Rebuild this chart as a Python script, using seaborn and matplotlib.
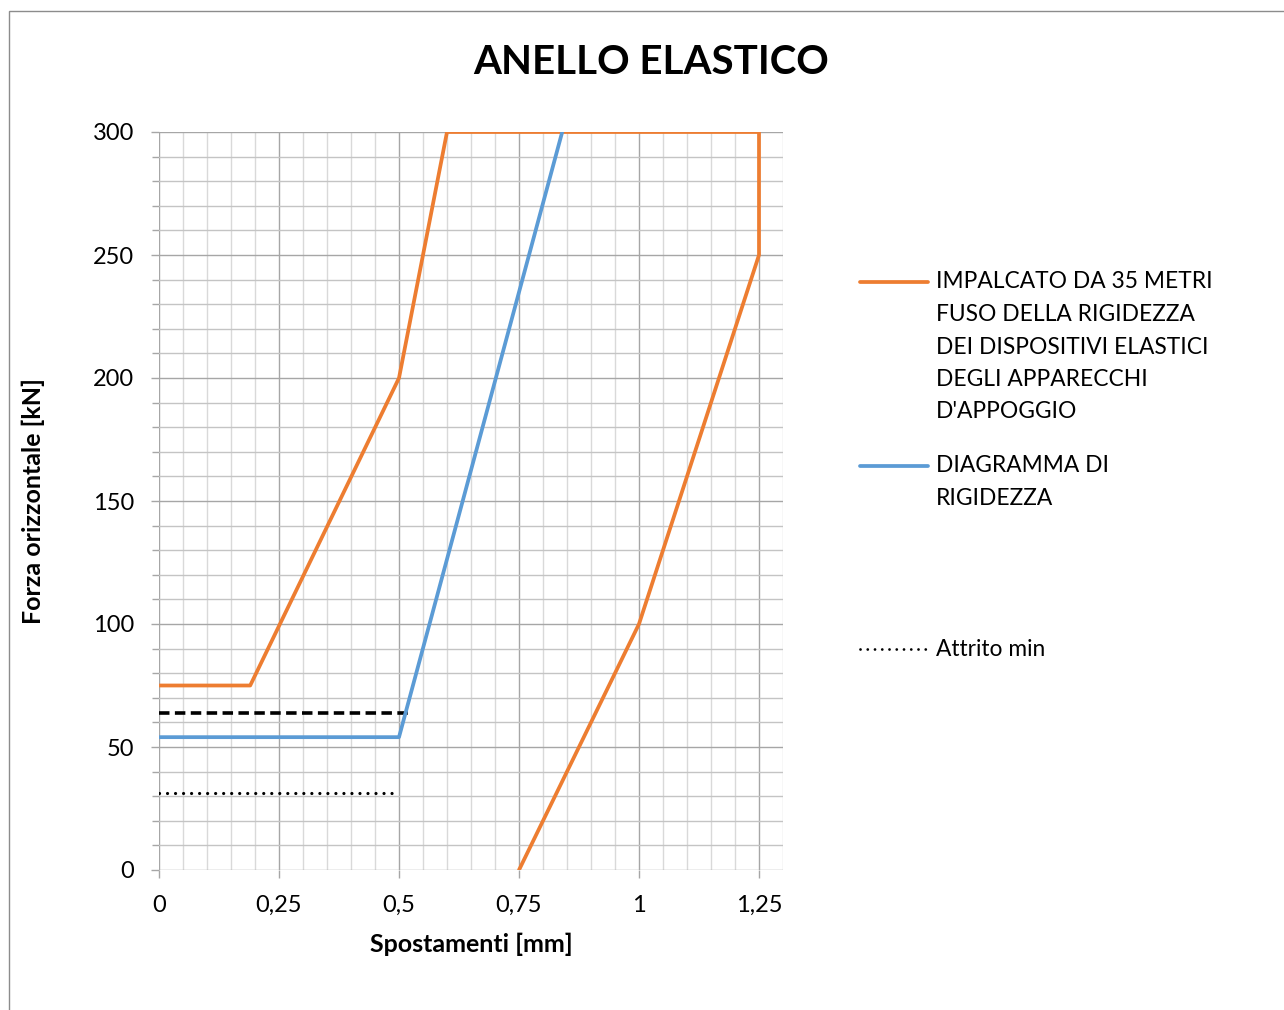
import matplotlib
matplotlib.use("Agg")
import matplotlib.pyplot as plt
from matplotlib.lines import Line2D
from matplotlib.patches import Rectangle
from matplotlib.ticker import MultipleLocator, FixedLocator, FuncFormatter
import seaborn as sns
import pandas as pd

# Fuso della rigidezza (impalcato 35 m): closed outline of the stiffness band
fuso_x = [0.0, 0.19, 0.5, 0.6, 1.25, 1.25, 1.0, 0.75]
fuso_y = [75, 75, 200, 300, 300, 250, 100, 0]

# Diagramma di rigidezza dell'anello elastico
rig_x = [0.0, 0.5, 0.84]
rig_y = [54, 54, 300]

# Attrito max (tratteggiato) e attrito min (punteggiato)
attr_max_x = [0.0, 0.52]
attr_max_y = [64, 64]
attr_min_x = [0.0, 0.49]
attr_min_y = [31.5, 31.5]

x_ticks = [0, 0.25, 0.5, 0.75, 1.0, 1.25]
y_ticks = [0, 50, 100, 150, 200, 250, 300]

title = "ANELLO ELASTICO"
x_label = "Spostamenti [mm]"
y_label = "Forza orizzontale [kN]"
legend_fuso = ["IMPALCATO DA 35 METRI", "FUSO DELLA RIGIDEZZA",
               "DEI DISPOSITIVI ELASTICI", "DEGLI APPARECCHI", "D'APPOGGIO"]
legend_rig = ["DIAGRAMMA DI", "RIGIDEZZA"]
legend_min = ["Attrito min"]

ORANGE = "#ED7D31"
BLUE = "#5B9BD5"

sns.set_theme(style="white")
plt.rcParams["font.family"] = ["Lato", "DejaVu Sans"]
plt.rcParams["text.color"] = "black"
plt.rcParams["axes.labelcolor"] = "black"
plt.rcParams["xtick.labelcolor"] = "black"
plt.rcParams["ytick.labelcolor"] = "black"

W, H = 1284, 1010
fig = plt.figure(figsize=(W / 100, H / 100), dpi=100)
ax = fig.add_axes([159 / W, 1 - 870 / H, (783 - 159) / W, (870 - 132) / H])

df_fuso = pd.DataFrame({"x": fuso_x, "y": fuso_y})
df_rig = pd.DataFrame({"x": rig_x, "y": rig_y})
df_max = pd.DataFrame({"x": attr_max_x, "y": attr_max_y})
df_min = pd.DataFrame({"x": attr_min_x, "y": attr_min_y})

LW = 2.7
sns.lineplot(data=df_fuso, x="x", y="y", sort=False, estimator=None, ax=ax,
             color=ORANGE, lw=LW, zorder=5)
sns.lineplot(data=df_rig, x="x", y="y", sort=False, estimator=None, ax=ax,
             color=BLUE, lw=LW, zorder=5)
sns.lineplot(data=df_max, x="x", y="y", sort=False, estimator=None, ax=ax,
             color="black", lw=2.6, zorder=4)
ax.lines[-1].set_dashes([2.9, 1.5])
ax.lines[-1].set_dash_capstyle("butt")
sns.lineplot(data=df_min, x="x", y="y", sort=False, estimator=None, ax=ax,
             color="black", lw=2.3, zorder=4)
ax.lines[-1].set_dashes([0.01, 2.5])
ax.lines[-1].set_dash_capstyle("round")

ax.set_xlim(0, 1.30)
ax.set_ylim(0, 300)

# grid: major and minor lines
ax.xaxis.set_major_locator(FixedLocator(x_ticks))
ax.yaxis.set_major_locator(FixedLocator(y_ticks))
ax.xaxis.set_minor_locator(MultipleLocator(0.05))
ax.yaxis.set_minor_locator(MultipleLocator(10))
ax.grid(False)
for xv in [i * 0.05 for i in range(27)]:
    major = abs(round(xv / 0.25) * 0.25 - xv) < 1e-9
    ax.axvline(xv, color="#a6a6a6" if major else "#d9d9d9", lw=1.0, zorder=1)
for yv in range(0, 301, 10):
    major = yv % 50 == 0
    ax.axhline(yv, color="#a6a6a6" if major else "#c4c4c4", lw=1.0, zorder=1)

for s in ax.spines.values():
    s.set_visible(False)

fmt = FuncFormatter(lambda v, p: f"{v:g}".replace(".", ","))
ax.xaxis.set_major_formatter(fmt)
ax.tick_params(axis="x", which="major", direction="out", length=6, width=1,
               color="#a6a6a6", labelsize=17, pad=12, bottom=True)
ax.tick_params(axis="x", which="minor", length=0)
ax.tick_params(axis="y", which="major", direction="out", length=6, width=1,
               color="#a6a6a6", labelsize=17, pad=12, left=True)
ax.tick_params(axis="y", which="minor", direction="out", length=5, width=1,
               color="#a6a6a6", left=True)

ax.set_xlabel(x_label, fontsize=18, fontweight="bold", labelpad=12)
ax.set_ylabel(y_label, fontsize=18, fontweight="bold", labelpad=34)

fig.text(651 / W, 1 - 62 / H, title, ha="center", va="center",
         fontsize=29, fontweight="bold")

# legend drawn as handle + text lines
def legend_entry(y_px, lines, **line_kw):
    fig.add_artist(Line2D([860 / W, 928 / W], [1 - y_px / H] * 2, **line_kw))
    for i, t in enumerate(lines):
        fig.text(936 / W, 1 - (y_px + i * 32.5) / H, t, ha="left", va="center",
                 fontsize=16.4)

legend_entry(282, legend_fuso, color=ORANGE, lw=LW)
legend_entry(466, legend_rig, color=BLUE, lw=LW)
legend_entry(649, legend_min, color="black", lw=2.0, dashes=[0.01, 2.6],
             dash_capstyle="round")

# outer chart frame
fig.add_artist(Rectangle((9 / W, -0.5), 2.0, 1.5 - 11 / H,
                         transform=fig.transFigure, fill=False,
                         edgecolor="#8c8c8c", lw=1.0))

fig.savefig("out.png", dpi=100)
